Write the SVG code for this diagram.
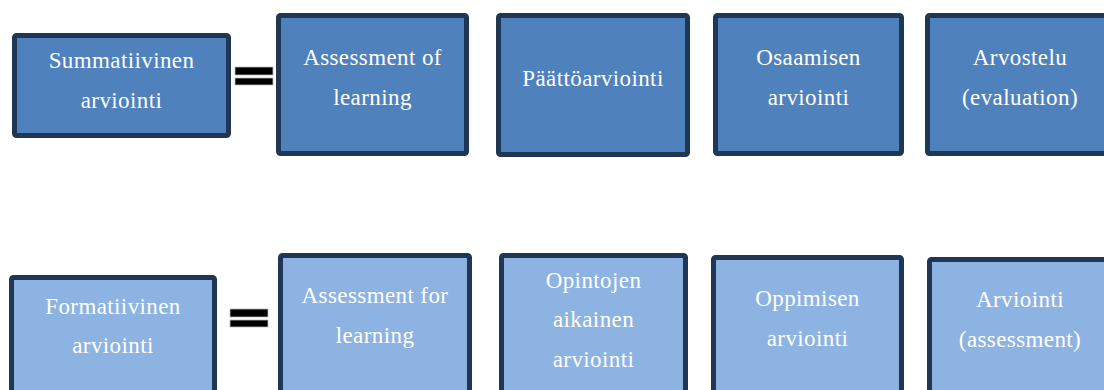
<svg xmlns="http://www.w3.org/2000/svg" width="1104" height="390" viewBox="0 0 1104 390">
<style>
.box{stroke:#1f3654;stroke-width:5}
.sum{fill:#4f81bd}
.form{fill:#8db3e2}
text{font-family:'Liberation Serif','DejaVu Serif',serif;font-size:23px;letter-spacing:0.4px;fill:#ffffff;text-anchor:middle}
.eq{fill:#000000;stroke:#bbbbbb;stroke-width:0.8}
</style>
<rect width="1104" height="390" fill="#ffffff"/>
<g id="eq-top"><rect class="eq" x="235" y="67" width="38" height="8"/><rect class="eq" x="235" y="78" width="38" height="7"/></g>
<g id="eq-bottom"><rect class="eq" x="230" y="309" width="38" height="8"/><rect class="eq" x="230" y="320" width="38" height="7"/></g>
<g id="summatiivinen"><rect class="box sum" x="14.5" y="35.5" width="214" height="100" rx="2"/><text x="121.5" y="68">Summatiivinen</text><text x="121.5" y="108">arviointi</text></g>
<g id="assessment-of"><rect class="box sum" x="278.5" y="15.5" width="188" height="138" rx="2"/><text x="372.5" y="65">Assessment of</text><text x="372.5" y="105">learning</text></g>
<g id="paattoarviointi"><rect class="box sum" x="498.5" y="15.5" width="189" height="139" rx="2"/><text x="593" y="86">Päättöarviointi</text></g>
<g id="osaamisen"><rect class="box sum" x="715.5" y="15.5" width="186" height="138" rx="2"/><text x="808.5" y="65">Osaamisen</text><text x="808.5" y="105">arviointi</text></g>
<g id="arvostelu"><rect class="box sum" x="927.5" y="15.5" width="190" height="138" rx="2"/><text x="1020" y="65">Arvostelu</text><text x="1020" y="105">(evaluation)</text></g>
<g id="formatiivinen"><rect class="box form" x="11.5" y="277.5" width="203" height="120" rx="2"/><text x="113" y="314">Formatiivinen</text><text x="113" y="353">arviointi</text></g>
<g id="assessment-for"><rect class="box form" x="280.5" y="255.5" width="189" height="140" rx="2"/><text x="375" y="303">Assessment for</text><text x="375" y="343">learning</text></g>
<g id="opintojen"><rect class="box form" x="501.5" y="255.5" width="184" height="140" rx="2"/><text x="593.5" y="288">Opintojen</text><text x="593.5" y="327">aikainen</text><text x="593.5" y="367">arviointi</text></g>
<g id="oppimisen"><rect class="box form" x="713.5" y="257.5" width="188" height="140" rx="2"/><text x="807.5" y="306">Oppimisen</text><text x="807.5" y="346">arviointi</text></g>
<g id="arviointi"><rect class="box form" x="929.5" y="259.5" width="190" height="140" rx="2"/><text x="1020" y="307">Arviointi</text><text x="1020" y="347">(assessment)</text></g>
<g id="connectors"></g>
</svg>
